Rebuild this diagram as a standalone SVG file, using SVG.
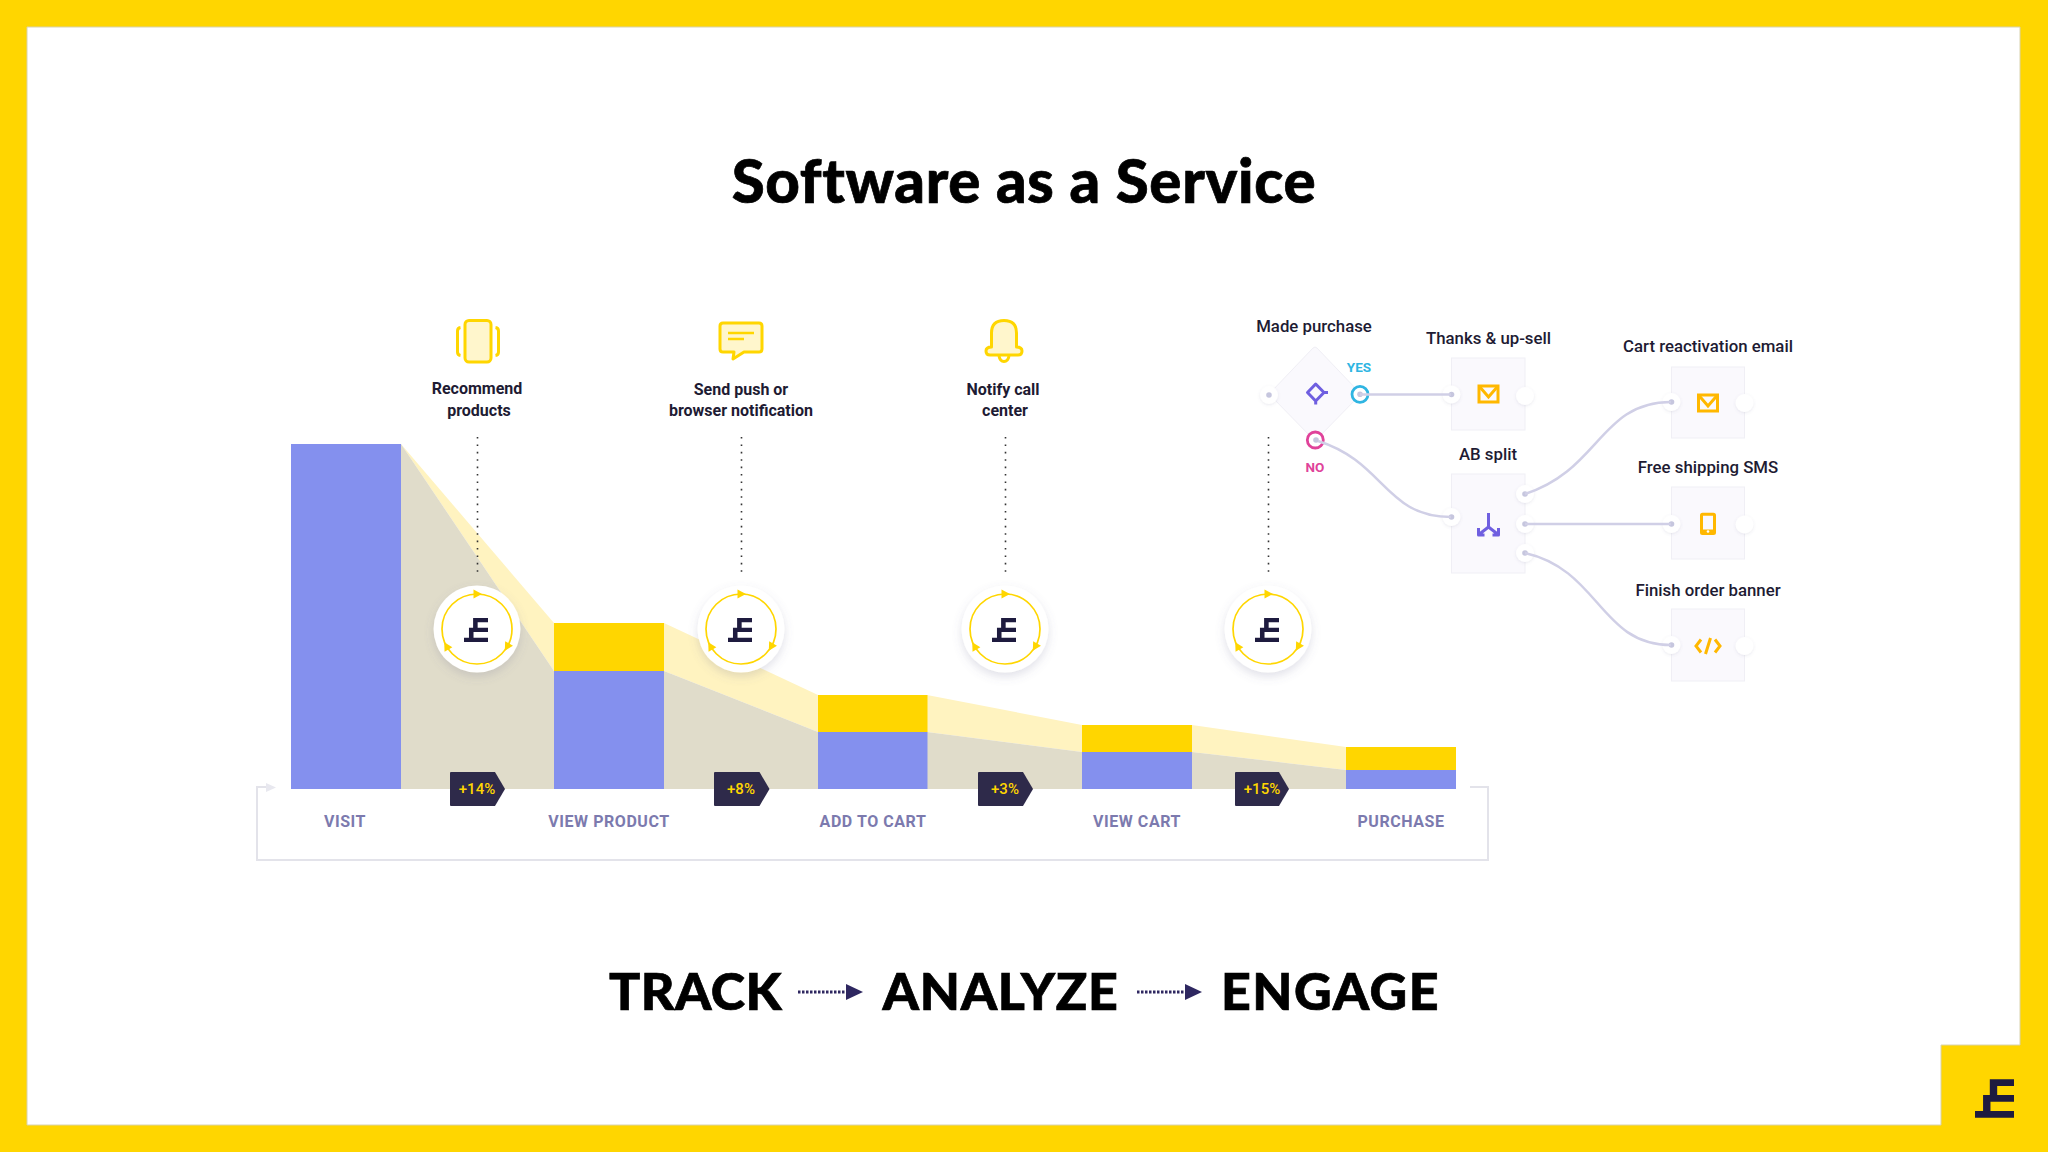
<svg xmlns="http://www.w3.org/2000/svg" xmlns:xlink="http://www.w3.org/1999/xlink" width="2048" height="1152" viewBox="0 0 2048 1152">
<style>
.t{font-family:"Roboto","Liberation Sans",sans-serif;text-anchor:middle}
.lbl{font-size:16px;font-weight:700;fill:#1e1b33}
.nl{font-size:16.800px;font-weight:500;fill:#1e1b33}
.stage{font-size:16px;font-weight:700;fill:#7c7aae;letter-spacing:.55px}
.pct{font-size:15px;font-weight:500;fill:#ffd600}
.h{font-family:"Lato","Liberation Sans",sans-serif;font-weight:900;fill:#000;stroke:#000;stroke-width:.7px;text-anchor:middle}
.bl{fill:#8490ee}.yl{fill:#ffd600}.gr{fill:#e0dcca}.ly{fill:#fff3c0}
.dot{stroke:#333;stroke-width:1.6;stroke-dasharray:1.6 5.8;fill:none}
.ic{fill:#fff6cc;stroke:#ffd600;stroke-width:3;stroke-linejoin:round}
.ico{fill:none;stroke:#ffb800;stroke-width:3}
.pu{fill:none;stroke:#6f5fe0;stroke-width:3;stroke-linejoin:round}
.box{fill:#faf9fd;stroke:#f0eff5;stroke-width:1}
.pw{fill:#fff;filter:url(#sh2)}
.pd{fill:#c6c6de}
.con{fill:none;stroke:#d0cfe6;stroke-width:2.500}
.brk{fill:none;stroke:#e3e3ea;stroke-width:2}
.badge{fill:#2e2a4a}
</style>
<defs>
<filter id="sh" x="-30%" y="-30%" width="160%" height="170%"><feDropShadow dx="0" dy="4" stdDeviation="5" flood-color="#6a6690" flood-opacity=".2"/></filter>
<filter id="sh2" x="-50%" y="-50%" width="200%" height="200%"><feDropShadow dx="0" dy="1" stdDeviation="1.500" flood-color="#6a6690" flood-opacity=".14"/></filter>
<symbol id="logo" viewBox="0 0 116 115"><path d="M44 0H116V20H66V47H116V67H46V95H116V115H0V95H24V47H44Z" fill="#1e1b3f"/></symbol>
<g id="ring">
<circle r="43.500" fill="#fff" filter="url(#sh)"/>
<circle r="35" fill="none" stroke="#ffd600" stroke-width="1.700"/>
<path d="M-3.500 -39.500 L5 -35 L-3.500 -30.500Z" fill="#ffd600"/>
<path d="M-3.500 -4.500 L5 0 L-3.500 4.500Z" fill="#ffd600" transform="translate(30.300 17.500) rotate(120)"/>
<path d="M-3.500 -4.500 L5 0 L-3.500 4.500Z" fill="#ffd600" transform="translate(-30.300 17.500) rotate(240)"/>
<use xlink:href="#logo" href="#logo" x="-13" y="-11" width="24" height="24"/>
</g>
<g id="mail"><rect x="-9.500" y="-8" width="19" height="16" class="ico"/><path d="M-9.500 -8 L0 3 L9.500 -8" class="ico"/></g>
<g id="pl"><circle r="9" class="pw"/><circle r="2.800" class="pd"/></g>
<g id="pe"><circle r="9" class="pw"/></g>
</defs>

<g id="frame">
<rect width="2048" height="1152" fill="#ffd600"/>
<path d="M27 27H2020V1045H1941V1125H27Z" fill="#fff" stroke="#d8d2ae" stroke-width="1"/>
<use xlink:href="#logo" href="#logo" x="1975" y="1079" width="39" height="39"/>
</g>

<text class="h" x="1024" y="203" font-size="60" letter-spacing=".65">Software as a Service</text>

<g id="funnel">
<polygon class="ly" points="401,444 554,623 554,671"/>
<polygon class="gr" points="401,444 554,671 554,789 401,789"/>
<polygon class="ly" points="664,623 818,695 818,732 664,671"/>
<polygon class="gr" points="664,671 818,732 818,789 664,789"/>
<polygon class="ly" points="927,695 1082,725 1082,752 927,732"/>
<polygon class="gr" points="927,732 1082,752 1082,789 927,789"/>
<polygon class="ly" points="1192,725 1346,747 1346,770 1192,752"/>
<polygon class="gr" points="1192,752 1346,770 1346,789 1192,789"/>
</g>

<g id="connectors">
<path class="brk" d="M270 787H257V860H1488V787H1470"/>
<path d="M266 783L276 787.500L266 792Z" fill="#e8e8ef"/>
<line class="dot" x1="477.500" y1="437" x2="477.500" y2="574"/>
<line class="dot" x1="741.500" y1="437" x2="741.500" y2="574"/>
<line class="dot" x1="1005.500" y1="437" x2="1005.500" y2="574"/>
<line class="dot" x1="1268.500" y1="437" x2="1268.500" y2="574"/>
</g>

<g id="node-visit"><rect class="bl" x="291" y="444" width="110" height="345"/><text class="t stage" x="345" y="827">VISIT</text></g>
<g id="node-view-product"><rect class="yl" x="554" y="623" width="110" height="48"/><rect class="bl" x="554" y="671" width="110" height="118"/><text class="t stage" x="609" y="827">VIEW PRODUCT</text></g>
<g id="node-add-to-cart"><rect class="yl" x="818" y="695" width="109.500" height="37"/><rect class="bl" x="818" y="732" width="109.500" height="57"/><text class="t stage" x="873" y="827">ADD TO CART</text></g>
<g id="node-view-cart"><rect class="yl" x="1082" y="725" width="110" height="27"/><rect class="bl" x="1082" y="752" width="110" height="37"/><text class="t stage" x="1137" y="827">VIEW CART</text></g>
<g id="node-purchase"><rect class="yl" x="1346" y="747" width="110" height="23"/><rect class="bl" x="1346" y="770" width="110" height="19"/><text class="t stage" x="1401" y="827">PURCHASE</text></g>

<g id="badge-14"><path class="badge" d="M451 772H495L505 789L495 806H451Q450 806 450 805V773Q450 772 451 772Z"/><text class="t pct" x="477" y="794">+14%</text></g>
<g id="badge-8"><path class="badge" d="M715 772H759.500L769.500 789L759.500 806H715Q714 806 714 805V773Q714 772 715 772Z"/><text class="t pct" x="741" y="794">+8%</text></g>
<g id="badge-3"><path class="badge" d="M979 772H1023L1033 789L1023 806H979Q978 806 978 805V773Q978 772 979 772Z"/><text class="t pct" x="1005" y="794">+3%</text></g>
<g id="badge-15"><path class="badge" d="M1236 772H1279L1289 789L1279 806H1236Q1235 806 1235 805V773Q1235 772 1236 772Z"/><text class="t pct" x="1262" y="794">+15%</text></g>

<g id="node-recommend">
<rect class="ic" x="465" y="320.500" width="26" height="41.500" rx="4"/>
<path d="M460.500 327.500Q457.500 328 457.500 331V352Q457.500 355 460.500 355.500M495.500 327.500Q498.500 328 498.500 331V352Q498.500 355 495.500 355.500" fill="none" stroke="#ffd600" stroke-width="3"/>
<text class="t lbl" x="477" y="394">Recommend</text><text class="t lbl" x="479" y="415.500">products</text>
</g>
<g id="node-send-push">
<path class="ic" d="M723 323H759Q762 323 762 326V349Q762 352 759 352H744L733 359L734 352H723Q720 352 720 349V326Q720 323 723 323Z"/>
<path d="M728 333H754M728 339H744" stroke="#ffd600" stroke-width="2.500" fill="none"/>
<text class="t lbl" x="741" y="394.500">Send push or</text><text class="t lbl" x="741" y="416">browser notification</text>
</g>
<g id="node-notify">
<path class="ic" d="M991.500 347V333Q991.500 320.500 1004 320.500Q1016.500 320.500 1016.500 333V347Q1022 347 1022 351Q1022 355 1018 355H990Q986 355 986 351Q986 347 991.500 347Z"/>
<path d="M999 356Q1000 361.500 1004 361.500Q1008 361.500 1009 356" fill="none" stroke="#ffd600" stroke-width="3"/>
<text class="t lbl" x="1003" y="395">Notify call</text><text class="t lbl" x="1005" y="416">center</text>
</g>

<g id="engage-1"><use xlink:href="#ring" href="#ring" x="477" y="629"/></g>
<g id="engage-2"><use xlink:href="#ring" href="#ring" x="741" y="629"/></g>
<g id="engage-3"><use xlink:href="#ring" href="#ring" x="1005" y="629"/></g>
<g id="engage-4"><use xlink:href="#ring" href="#ring" x="1268" y="629"/></g>

<g id="node-made-purchase">
<path class="box" d="M1313 348Q1315 346 1317 348L1359 392Q1361 394 1359 396L1317 439Q1315 441 1313 439L1271 396Q1269 394 1271 392Z"/>
<use xlink:href="#pl" href="#pl" x="1269" y="395"/>
<path class="pu" d="M1315.700 384L1324 392.500L1315.700 401L1307.500 392.500ZM1324 392.500H1328M1315.700 401V404.500"/>
<circle cx="1360" cy="394.300" r="8" fill="#fff" stroke="#2fb5e2" stroke-width="2.800"/><circle cx="1360" cy="394.300" r="2.800" class="pd"/>
<circle cx="1315.300" cy="440" r="8" fill="#fff" stroke="#e0429a" stroke-width="2.800"/><circle cx="1316" cy="440" r="2.800" class="pd"/>
<text class="t nl" x="1314" y="332">Made purchase</text>
<text class="t" x="1359" y="372" font-size="13.500" font-weight="700" fill="#2fb5e2">YES</text>
<text class="t" x="1315" y="472" font-size="13.500" font-weight="700" fill="#e0429a">NO</text>
</g>
<g id="node-thanks">
<rect class="box" x="1451.500" y="358" width="73.500" height="72"/>
<use xlink:href="#pl" href="#pl" x="1451.500" y="394.500"/><use xlink:href="#pe" href="#pe" x="1525" y="396"/>
<use xlink:href="#mail" href="#mail" x="1488.500" y="394"/>
<text class="t nl" x="1488.500" y="344">Thanks &amp; up-sell</text>
</g>
<g id="node-ab-split">
<rect class="box" x="1451.500" y="474" width="73.500" height="99"/>
<use xlink:href="#pl" href="#pl" x="1451.500" y="517"/>
<use xlink:href="#pl" href="#pl" x="1525" y="494"/><use xlink:href="#pl" href="#pl" x="1525" y="524"/><use xlink:href="#pl" href="#pl" x="1525" y="553"/>
<path class="pu" d="M1488.500 513V527L1479.500 534M1488.500 527L1497.500 534M1478.500 528V535H1484.500M1498.500 528V535H1492.500"/>
<text class="t nl" x="1488" y="460">AB split</text>
</g>
<g id="node-cart-email">
<rect class="box" x="1671.500" y="367" width="73" height="71"/>
<use xlink:href="#pl" href="#pl" x="1671.500" y="402"/><use xlink:href="#pe" href="#pe" x="1744.500" y="403"/>
<use xlink:href="#mail" href="#mail" x="1708" y="403"/>
<text class="t nl" x="1708" y="352">Cart reactivation email</text>
</g>
<g id="node-free-sms">
<rect class="box" x="1671.500" y="487" width="73" height="72"/>
<use xlink:href="#pl" href="#pl" x="1671.500" y="524"/><use xlink:href="#pe" href="#pe" x="1744.500" y="524.500"/>
<rect class="ico" x="1701.500" y="514.200" width="13" height="19.300" rx="1"/><path d="M1701 531H1715" class="ico" stroke-width="4"/><circle cx="1708" cy="531.500" r="1.300" fill="#fff"/>
<text class="t nl" x="1708" y="473">Free shipping SMS</text>
</g>
<g id="node-finish-order">
<rect class="box" x="1671.500" y="609" width="73" height="72"/>
<use xlink:href="#pl" href="#pl" x="1671.500" y="645"/><use xlink:href="#pe" href="#pe" x="1744.500" y="646"/>
<path class="ico" d="M1701 639.500L1696 646L1701 652.500M1715 639.500L1720 646L1715 652.500M1710.500 638L1705.500 654"/>
<text class="t nl" x="1708" y="596">Finish order banner</text>
</g>

<g id="flow-connectors">
<path class="con" d="M1360 394.500H1451"/>
<path class="con" d="M1318 441C1385 462 1385 517 1451 517"/>
<path class="con" d="M1525 494C1600 470 1600 402 1671 402"/>
<path class="con" d="M1525 524H1671"/>
<path class="con" d="M1525 553C1600 570 1600 645 1671 645"/>
</g>

<g id="tagline">
<text class="h" x="695.500" y="1010" font-size="52" letter-spacing=".4">TRACK</text>
<text class="h" x="1000.500" y="1010" font-size="52" letter-spacing=".7">ANALYZE</text>
<text class="h" x="1330.500" y="1010" font-size="52" letter-spacing="1.500">ENGAGE</text>
<path d="M798 992H846M1137 992H1185" stroke="#2e2760" stroke-width="3" stroke-dasharray="2.500 1.500" fill="none"/>
<path d="M846 984L863 992L846 1000ZM1185 984L1202 992L1185 1000Z" fill="#2e2760"/>
</g>
</svg>
